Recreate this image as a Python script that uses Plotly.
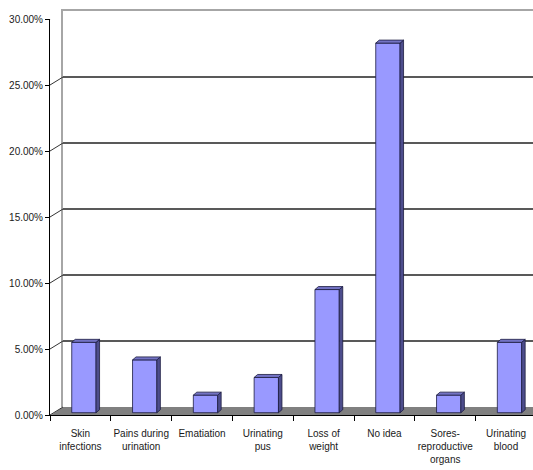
import plotly.graph_objects as go

# ---------------- data ----------------
categories = ["Skin infections", "Pains during urination", "Ematiation", "Urinating pus",
              "Loss of weight", "No idea", "Sores-reproductive organs", "Urinating blood"]
category_labels = ["Skin<br>infections", "Pains during<br>urination", "Ematiation", "Urinating<br>pus",
                   "Loss of<br>weight", "No idea", "Sores-<br>reproductive<br>organs", "Urinating<br>blood"]
values = [0.0533, 0.0400, 0.0133, 0.0267, 0.0933, 0.2800, 0.0133, 0.0533]
y_ticks = [0.00, 0.05, 0.10, 0.15, 0.20, 0.25, 0.30]

# ---------------- geometry (pixels) ----------------
W, H = 533, 470
ML, MR, MT, MB = 50, 0, 11, 55
plot_w = W - ML - MR
plot_h = H - MT - MB
front_h = 396            # height of front value axis
wall_dx, wall_dy = 13, 8  # back wall offset
cat_px = 60.8
x_range = [-0.5, -0.5 + plot_w / cat_px]
px_per_x = cat_px
px_per_y = front_h / y_ticks[-1]

bar_w = 0.4
fx = 3.5 / px_per_x
fy = 2.3 / px_per_y
ddx = 3.5 / px_per_x
ddy = 3.0 / px_per_y

FONT = dict(family="Liberation Sans, Arial, sans-serif", size=10, color="#1a1a1a")
EDGE = "#1c1c40"
CLEAR = "rgba(0,0,0,0)"

fig = go.Figure()

# invisible trace to materialise the back-wall subplot
fig.add_trace(go.Scatter(x=[0], y=[0], xaxis="x", yaxis="y", mode="markers",
                         marker=dict(opacity=0), hoverinfo="skip", showlegend=False))

# front faces of bars
fig.add_trace(go.Bar(x=categories, y=values, base=fy, width=bar_w, offset=-bar_w / 2 + fx,
                     xaxis="x2", yaxis="y2",
                     marker=dict(color="#9999ff", line=dict(color=EDGE, width=0.8)),
                     hoverinfo="skip", showlegend=False))

# side and top faces
sx, sy, tx, ty = [], [], [], []
for i, v in enumerate(values):
    xl = i - bar_w / 2 + fx
    xr = xl + bar_w
    yb, yt = fy, fy + v
    sx += [xr, xr + ddx, xr + ddx, xr, xr, None]
    sy += [yb, yb + ddy, yt + ddy, yt, yb, None]
    tx += [xl, xl + ddx, xr + ddx, xr, xl, None]
    ty += [yt, yt + ddy, yt + ddy, yt, yt, None]

fig.add_trace(go.Scatter(x=sx, y=sy, xaxis="x3", yaxis="y2", mode="lines", fill="toself",
                         fillcolor="#4d4d8c", line=dict(color=EDGE, width=0.8),
                         hoverinfo="skip", showlegend=False))
fig.add_trace(go.Scatter(x=tx, y=ty, xaxis="x3", yaxis="y2", mode="lines", fill="toself",
                         fillcolor="#7373c4", line=dict(color=EDGE, width=0.8),
                         hoverinfo="skip", showlegend=False))

shapes = []
# floor
shapes.append(dict(type="path", xref="paper", yref="y2", xsizemode="pixel", xanchor=0,
                   ysizemode="pixel", yanchor=0,
                   path=f"M 1,0 L {plot_w},0 L {plot_w},{wall_dy} L {wall_dx},{wall_dy} Z",
                   fillcolor="#808080", line=dict(width=0), layer="below"))
# connectors from front ticks to back wall
for t in y_ticks:
    col = "#a6a6a6" if t == y_ticks[-1] else "#333333"
    shapes.append(dict(type="line", xref="paper", yref="y2", xsizemode="pixel", xanchor=0,
                       ysizemode="pixel", yanchor=t, x0=0, x1=wall_dx, y0=0, y1=wall_dy,
                       line=dict(color=col, width=1)))

fig.update_layout(
    width=W, height=H,
    margin=dict(l=ML, r=MR, t=MT, b=MB, autoexpand=False),
    paper_bgcolor="white", plot_bgcolor=CLEAR,
    showlegend=False, hovermode=False,
    font=FONT,
    shapes=shapes,
    # back wall
    xaxis=dict(domain=[wall_dx / plot_w, 1], anchor="y", range=[0, 1], side="top",
               showgrid=False, zeroline=False, showticklabels=False, ticks="",
               showline=True, linecolor="#a6a6a6", linewidth=1.5, automargin=False),
    yaxis=dict(domain=[wall_dy / plot_h, (front_h + wall_dy) / plot_h], anchor="x",
               range=[0, y_ticks[-1]], tickvals=y_ticks[1:-1], showticklabels=False, ticks="",
               showgrid=True, gridcolor="#595959", gridwidth=1.5, zeroline=False,
               showline=True, linecolor="#a6a6a6", linewidth=1.5, automargin=False),
    # front axes
    xaxis2=dict(domain=[0, 1], anchor="y2", type="category", range=x_range,
                categoryorder="array", categoryarray=categories,
                tickvals=categories, ticktext=category_labels, tickson="boundaries",
                tickangle=0, automargin=False,
                ticks="outside", ticklen=5, tickcolor="black", tickwidth=1,
                showline=True, linecolor="black", linewidth=1, showgrid=False,
                zeroline=False, tickfont=FONT, ticklabelstandoff=9),
    yaxis2=dict(domain=[0, front_h / plot_h], anchor="x2", range=[0, y_ticks[-1]],
                tickvals=y_ticks, tickformat=".2%", ticks="outside", ticklen=4,
                tickcolor="black", showline=True, linecolor="black", linewidth=1,
                showgrid=False, zeroline=False, tickfont=FONT, automargin=False),
    xaxis3=dict(overlaying="x2", anchor="y2", range=x_range, visible=False),
)

fig.write_html("out.html")
